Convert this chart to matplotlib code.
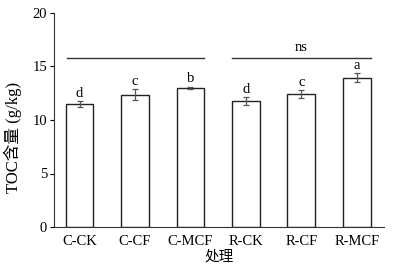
import numpy as np
import matplotlib.pyplot as plt

plt.rcParams['font.family'] = ['Liberation Serif', 'Noto Sans CJK SC']
plt.rcParams['font.size'] = 10.5

treatments = ['C-CK', 'C-CF', 'C-MCF', 'R-CK', 'R-CF', 'R-MCF']
toc = [11.47, 12.37, 13.02, 11.78, 12.43, 13.95]
toc_err = [0.26, 0.5, 0.1, 0.35, 0.33, 0.42]
letters = ['d', 'c', 'b', 'd', 'c', 'a']
group_line = 15.8
group_note = 'ns'

fig = plt.figure(figsize=(4.06, 2.65), dpi=100)
ax = fig.add_axes([54 / 406, 38 / 265, 330 / 406, 214 / 265])

x = np.arange(len(treatments))
ax.bar(x, toc, width=0.5, color='white', edgecolor='#222222', linewidth=1.0)
ax.errorbar(x, toc, yerr=toc_err, fmt='none', ecolor='#555555',
            elinewidth=0.9, capsize=2.5, capthick=0.9)
for xi, v, e, s in zip(x, toc, toc_err, letters):
    ax.text(xi, v + e + 0.15, s, ha='center', va='bottom', fontsize=10.5)

# group lines
ax.plot([-0.22, 2.25], [group_line, group_line], color='#333333', lw=1.0)
ax.plot([2.75, 5.25], [group_line, group_line], color='#333333', lw=1.0)
ax.text(4, group_line + 0.35, group_note, ha='center', va='bottom', fontsize=10.5)

ax.set_xlim(-0.46, 5.49)
ax.set_ylim(0, 20)
ax.set_yticks([0, 5, 10, 15, 20])
ax.set_xticks(x)
ax.set_xticklabels(treatments)
ax.tick_params(axis='x', length=0, pad=6)
ax.tick_params(axis='y', length=3, width=0.8, direction='out', pad=2)
ax.spines['top'].set_visible(False)
ax.spines['right'].set_visible(False)
ax.spines['left'].set_color('#333333')
ax.spines['bottom'].set_color('#333333')
ax.set_xlabel('处理', labelpad=1)
ax.set_ylabel('TOC含量 (g/kg)', fontsize=12)
ax.yaxis.set_label_coords(-0.097, 0.42)

fig.savefig('out.png', dpi=100)
